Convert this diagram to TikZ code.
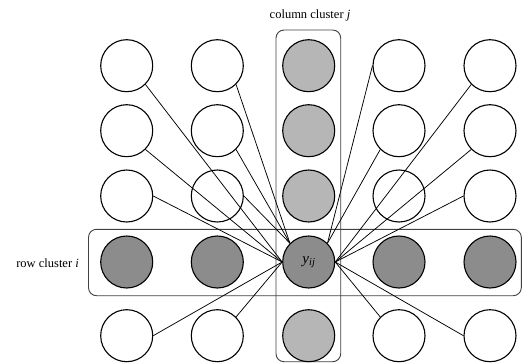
\documentclass[tikz,border=0pt]{standalone}
\usepackage{fontspec}
\setmainfont{Liberation Serif}
\definecolor{darkg}{HTML}{8C8C8C}
\definecolor{lightg}{HTML}{B6B6B6}
\begin{document}
\begin{tikzpicture}[x=1pt,y=-1pt,
  nd/.style={circle,draw=black,line width=1.1pt,minimum size=52pt,inner sep=0pt,fill=white},
  rowc/.style={nd,fill=darkg},
  colc/.style={nd,fill=lightg},
  conn/.style={draw=black,line width=0.75pt},
  clbox/.style={draw=black!75,line width=0.9pt,rounded corners=8pt},
  lbl/.style={font=\fontsize{12.5}{14}\selectfont,inner sep=0pt}]
\useasboundingbox (0,0) rectangle (522,364);
% cluster boxes
\draw[clbox] (276,30) rectangle (340.7,361.7);
\draw[clbox] (88.5,229.3) rectangle (521.3,295.7);
% labels
\node[lbl] (collabel) at (310,15) {column cluster \textit{j}};
\node[lbl,anchor=east] (rowlabel) at (79,263) {row cluster \textit{i}};
% row 1
\node[nd] (n11) at (126.7,65.7) {};
\node[nd] (n12) at (217.3,65.7) {};
\node[colc] (n13) at (308.7,65.7) {};
\node[nd] (n14) at (399,65.7) {};
\node[nd] (n15) at (490,65.7) {};
% row 2
\node[nd] (n21) at (126.7,130.7) {};
\node[nd] (n22) at (217.3,130.7) {};
\node[colc] (n23) at (308.7,130.7) {};
\node[nd] (n24) at (399,130.7) {};
\node[nd] (n25) at (490,130.7) {};
% row 3
\node[nd] (n31) at (126.7,196) {};
\node[nd] (n32) at (217.3,196) {};
\node[colc] (n33) at (308.7,196) {};
\node[nd] (n34) at (399,196) {};
\node[nd] (n35) at (490,196) {};
% row 4 (row cluster)
\node[rowc] (n41) at (126.7,262) {};
\node[rowc] (n42) at (217.3,262) {};
\node[rowc] (n43) at (308.7,262) {\fontsize{15}{16}\selectfont\textit{y}\raisebox{-0.35ex}{\fontsize{10.5}{11}\selectfont\textit{ij}}};
\node[rowc] (n44) at (399,262) {};
\node[rowc] (n45) at (490,262) {};
% row 5
\node[nd] (n51) at (126.7,335.7) {};
\node[nd] (n52) at (217.3,335.7) {};
\node[colc] (n53) at (308.7,335.7) {};
\node[nd] (n54) at (399,335.7) {};
\node[nd] (n55) at (490,335.7) {};
% connectors
\draw[conn] (n11.south east) -- (n43.west);
\draw[conn] (n21.south east) -- (n43.west);
\draw[conn] (n31.east) -- (n43.west);
\draw[conn] (n51.east) -- (n43.west);
\draw[conn] (n52.north east) -- (n43.west);
\draw[conn] (n12.south east) -- (n43.north west);
\draw[conn] (n22.south east) -- (n43.north west);
\draw[conn] (n32.east) -- (n43.north west);
\draw[conn] (n14.west) -- (n43.north east);
\draw[conn] (n24.south west) -- (n43.north east);
\draw[conn] (n15.south west) -- (n43.east);
\draw[conn] (n25.south west) -- (n43.east);
\draw[conn] (n35.west) -- (n43.east);
\draw[conn] (n54.north west) -- (n43.east);
\draw[conn] (n55.west) -- (n43.east);
\end{tikzpicture}
\end{document}
